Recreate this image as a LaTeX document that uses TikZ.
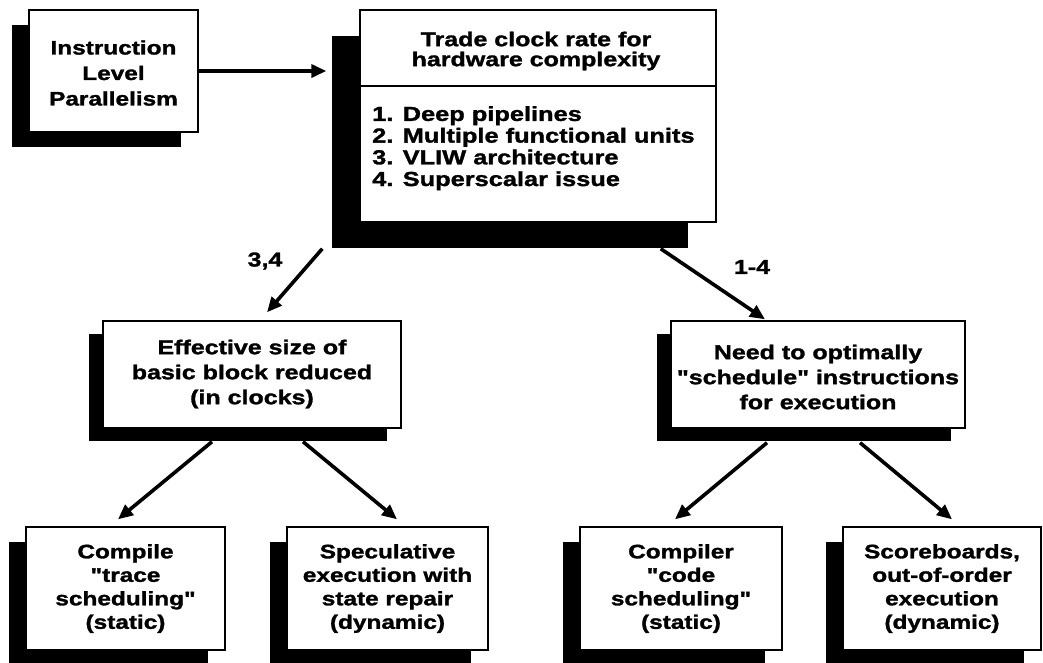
\documentclass[tikz,border=0pt]{standalone}
\usepackage{fontspec}
\setmainfont{Liberation Sans}[FakeStretch=1.25, Ligatures=TeXOff, BoldFeatures={FakeBold=1.5}]
\usetikzlibrary{arrows.meta,shadows,calc}

\tikzset{
  box/.style={draw=black, line width=1.4pt, fill=white, inner sep=0pt},
  txt/.style={inner sep=0pt, align=center, font=\bfseries\fontsize{20}{25}\selectfont},
  shadowbig/.style={drop shadow={shadow xshift=-28pt, shadow yshift=-26pt, fill=black, opacity=1}},
  shadowmid/.style={drop shadow={shadow xshift=-14pt, shadow yshift=-13pt, fill=black, opacity=1}},
  shadowsmall/.style={drop shadow={shadow xshift=-17pt, shadow yshift=-15pt, fill=black, opacity=1}},
  leaf/.style={box, shadowsmall, minimum height=123pt},
  link/.style={line width=3.6pt, -{Triangle[length=15pt,width=13pt]}},
  tag/.style={inner sep=0pt, font=\bfseries\fontsize{20}{25}\selectfont}
}

\begin{document}
\begin{tikzpicture}[x=1pt,y=-1pt]
\useasboundingbox (0,0) rectangle (1043,662);

% top row
\node[box, shadowsmall, minimum width=169pt, minimum height=122pt] (ilp) at (113.5,71) {};
\node[txt, font=\bfseries\fontsize{19.5}{25.5}\selectfont] (ilptext) at (113.5,73) {Instruction\\Level\\Parallelism};

\node[box, shadowbig, minimum width=356pt, minimum height=212pt] (trade) at (538,116) {};
\coordinate (divy) at (0,86);
\draw[line width=1.4pt] (trade.west |- divy) -- (trade.east |- divy);
\node[txt, font=\bfseries\fontsize{20}{20}\selectfont] (tradehead) at (536,51) {Trade clock rate for\\hardware complexity};
\node[txt, align=left, anchor=north west, font=\bfseries\fontsize{20.3}{21.7}\selectfont] (tradelist) at (372,106)
  {1. Deep pipelines\\2. Multiple functional units\\3. VLIW architecture\\4. Superscalar issue};

% middle row
\node[box, shadowmid, minimum width=298pt, minimum height=107pt] (eff) at (252,374.5) {};
\node[txt] (efftext) at (252,374) {Effective size of\\basic block reduced\\(in clocks)};

\node[box, shadowmid, minimum width=294pt, minimum height=107pt] (need) at (818,374.5) {};
\node[txt] (needtext) at (818,377) {Need to optimally\\"schedule" instructions\\for execution};

% bottom row
\node[leaf, minimum width=199pt] (compile) at (125.5,588.5) {};
\node[txt, font=\bfseries\fontsize{19.5}{23.5}\selectfont] (compiletext) at (125.5,588.5) {Compile\\"trace\\scheduling"\\(static)};

\node[leaf, minimum width=201pt] (spec) at (387.5,588.5) {};
\node[txt, font=\bfseries\fontsize{19.5}{23.5}\selectfont] (spectext) at (387.5,588.5) {Speculative\\execution with\\state repair\\(dynamic)};

\node[leaf, minimum width=202pt] (compiler) at (681,588.5) {};
\node[txt, font=\bfseries\fontsize{19.5}{23.5}\selectfont] (compilertext) at (681,588.5) {Compiler\\"code\\scheduling"\\(static)};

\node[leaf, minimum width=198pt] (score) at (942,588.5) {};
\node[txt, font=\bfseries\fontsize{19.5}{23.5}\selectfont] (scoretext) at (942,588.5) {Scoreboards,\\out-of-order\\execution\\(dynamic)};

% connector end points on the shadow edges
\coordinate (ilpout) at (ilp.east);
\coordinate (tradein) at ($(trade.west |- ilp.east)+(-33,0)$);
\coordinate (tradeL) at ($(trade.south west)+(-37,26)$);
\coordinate (tradeR) at ($(trade.south east)+(-56,26)$);
\coordinate (effin) at ($(eff.north)+(15,-8)$);
\coordinate (needin) at ($(need.north)+(-53,-1)$);
\coordinate (effL) at ($(eff.south)+(-40,13)$);
\coordinate (effR) at ($(eff.south)+(51,13)$);
\coordinate (needL) at ($(need.south)+(-51,14)$);
\coordinate (needR) at ($(need.south)+(42,14)$);
\coordinate (compilein) at ($(compile.north)+(-7.5,-7)$);
\coordinate (specin) at ($(spec.north)+(9.5,-7)$);
\coordinate (compilerin) at ($(compiler.north)+(-6,-7)$);
\coordinate (scorein) at ($(score.north)+(10,-7)$);

% connectors
\draw[link] (ilpout) -- (tradein);
\draw[link] (tradeL) -- (effin);
\draw[link] (tradeR) -- (needin);
\draw[link] (effL) -- (compilein);
\draw[link] (effR) -- (specin);
\draw[link] (needL) -- (compilerin);
\draw[link] (needR) -- (scorein);

% connector labels
\node[tag] (lab34) at (265,261) {3,4};
\node[tag] (lab14) at (752,267) {1-4};
\end{tikzpicture}
\end{document}
